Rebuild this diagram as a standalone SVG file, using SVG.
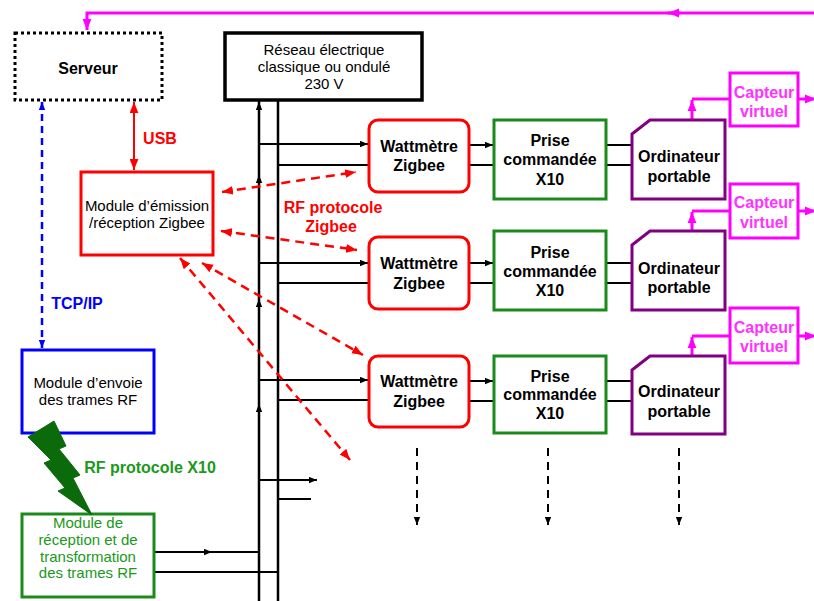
<svg xmlns="http://www.w3.org/2000/svg" width="814" height="601" viewBox="0 0 814 601">
<defs>
<style>
text{font-family:"Liberation Sans",Arial,sans-serif;text-anchor:middle}
.b{font-weight:bold;font-size:16px}
.r{font-size:15px}
.ln{fill:none;stroke:#000;stroke-width:2}
.bus{fill:none;stroke:#000;stroke-width:2.5}
.watt{fill:#fff;stroke:#ff0000;stroke-width:3}
.prise{fill:#fff;stroke:#1a8a1a;stroke-width:3}
.ord{fill:#fff;stroke:#800080;stroke-width:3}
.capt{fill:#fff;stroke:#ff00ff;stroke-width:3}
.mag{fill:none;stroke:#ff00ff;stroke-width:3}
.rfz{fill:none;stroke:#ff0000;stroke-width:2.5;stroke-dasharray:9,6}
.dd{fill:none;stroke:#000;stroke-width:2;stroke-dasharray:8,6}
</style>
<marker id="ak" viewBox="0 0 10 8" refX="10" refY="4" markerWidth="8" markerHeight="7" markerUnits="userSpaceOnUse" orient="auto-start-reverse"><path d="M0,0 L10,4 L0,8 z" fill="#000"/></marker>
<marker id="ar" viewBox="0 0 10 8" refX="10" refY="4" markerWidth="11" markerHeight="9" markerUnits="userSpaceOnUse" orient="auto-start-reverse"><path d="M0,0 L10,4 L0,8 z" fill="#ff0000"/></marker>
<marker id="ab" viewBox="0 0 10 8" refX="10" refY="4" markerWidth="8" markerHeight="7" markerUnits="userSpaceOnUse" orient="auto-start-reverse"><path d="M0,0 L10,4 L0,8 z" fill="#0000ff"/></marker>
<marker id="am" viewBox="0 0 10 8" refX="10" refY="4" markerWidth="11" markerHeight="10" markerUnits="userSpaceOnUse" orient="auto-start-reverse"><path d="M0,0 L10,4 L0,8 z" fill="#ff00ff"/></marker>
</defs>
<rect width="814" height="601" fill="#fff"/>

<g id="connectors">
  <path class="mag" d="M814,13 L87,13 L87,30" marker-end="url(#am)"/>
  <path class="mag" d="M680,13 L668,13" marker-end="url(#am)"/>
  <path class="bus" d="M259,100 V601"/>
  <path class="bus" d="M278,100 V601"/>
  <path class="ln" d="M259,112 V102" marker-end="url(#ak)"/>
  <path class="ln" d="M259,186 V175" marker-end="url(#ak)"/>
  <path class="ln" d="M259,310 V299" marker-end="url(#ak)"/>
  <path class="ln" d="M259,415 V404" marker-end="url(#ak)"/>
  <path class="ln" d="M259,144 H368" marker-end="url(#ak)"/>
  <path class="ln" d="M278,165 H369"/>
  <path class="ln" d="M469,145 H493" marker-end="url(#ak)"/>
  <path class="ln" d="M469,165 H494"/>
  <path class="ln" d="M607,145 H632"/>
  <path class="ln" d="M607,165 H632"/>
  <path class="ln" d="M259,263 H368" marker-end="url(#ak)"/>
  <path class="ln" d="M278,283 H369"/>
  <path class="ln" d="M469,263 H493" marker-end="url(#ak)"/>
  <path class="ln" d="M469,283 H494"/>
  <path class="ln" d="M607,263 H632"/>
  <path class="ln" d="M607,283 H632"/>
  <path class="ln" d="M259,380 H368" marker-end="url(#ak)"/>
  <path class="ln" d="M278,400 H369"/>
  <path class="ln" d="M469,381 H493" marker-end="url(#ak)"/>
  <path class="ln" d="M469,401 H494"/>
  <path class="ln" d="M607,381 H632"/>
  <path class="ln" d="M607,401 H632"/>
  <path class="ln" d="M259,480 H317" marker-end="url(#ak)"/>
  <path class="ln" d="M278,499 H311"/>
  <path class="ln" d="M155,552 H259"/>
  <path class="ln" d="M200,552 H212" marker-end="url(#ak)"/>
  <path class="ln" d="M155,572 H278"/>
  <path class="dd" d="M417,448 V525" marker-end="url(#ak)"/>
  <path class="dd" d="M548,448 V525" marker-end="url(#ak)"/>
  <path class="dd" d="M679,448 V525" marker-end="url(#ak)"/>
  <path class="mag" d="M692,120 V100" marker-end="url(#am)"/>
  <path class="mag" d="M692,99 H730"/>
  <path class="mag" d="M798,99 H816" marker-end="url(#am)"/>
  <path class="mag" d="M692,231 V212" marker-end="url(#am)"/>
  <path class="mag" d="M692,211 H730"/>
  <path class="mag" d="M798,211 H816" marker-end="url(#am)"/>
  <path class="mag" d="M692,356 V337" marker-end="url(#am)"/>
  <path class="mag" d="M692,336 H730"/>
  <path class="mag" d="M798,336 H816" marker-end="url(#am)"/>
  <path d="M134,102 V170" fill="none" stroke="#ff0000" stroke-width="2" marker-start="url(#ar)" marker-end="url(#ar)"/>
  <path d="M42,102 V348" fill="none" stroke="#0000ff" stroke-width="2.5" stroke-dasharray="7,5" marker-start="url(#ab)" marker-end="url(#ab)"/>
  <path class="rfz" d="M222,192 L356,172" marker-start="url(#ar)" marker-end="url(#ar)"/>
  <path class="rfz" d="M221,231 L357,250" marker-start="url(#ar)" marker-end="url(#ar)"/>
  <path class="rfz" d="M202,263 L363,355" marker-start="url(#ar)" marker-end="url(#ar)"/>
  <path class="rfz" d="M180,258 L350,460" marker-start="url(#ar)" marker-end="url(#ar)"/>
</g>

<g id="labels">
  <text x="160" y="144" class="b" fill="#ff0000">USB</text>
  <text x="77" y="309" class="b" fill="#0000ff">TCP/IP</text>
  <text x="150" y="473" class="b" fill="#1a991a">RF protocole X10</text>
  <text x="333" y="213" class="b" fill="#ff0000">RF protocole</text>
  <text x="331" y="232" class="b" fill="#ff0000">Zigbee</text>
</g>

<g id="serveur">
  <rect x="15" y="33" width="147" height="67" fill="#fff" stroke="#000" stroke-width="3" stroke-dasharray="3,3"/>
  <text x="88" y="74" class="b">Serveur</text>
</g>

<g id="reseau">
  <rect x="225" y="33" width="197" height="67" fill="#fff" stroke="#000" stroke-width="3.5"/>
  <text x="324" y="55" class="r">Réseau électrique</text>
  <text x="324" y="72" class="r">classique ou ondulé</text>
  <text x="324" y="89" class="r">230 V</text>
</g>

<g id="module-zigbee">
  <rect x="81" y="172" width="132" height="83" fill="#fff" stroke="#ff0000" stroke-width="3"/>
  <text x="147" y="211" class="r">Module d’émission</text>
  <text x="147" y="228" class="r">/réception Zigbee</text>
</g>

<g id="module-envoi">
  <rect x="22" y="350" width="132" height="83" fill="#fff" stroke="#0000ff" stroke-width="3"/>
  <text x="88" y="388" class="r">Module d’envoie</text>
  <text x="88" y="405" class="r">des trames RF</text>
</g>

<g id="module-reception">
  <rect x="22" y="514" width="132" height="83" fill="#fff" stroke="#1a8a1a" stroke-width="3"/>
  <g fill="#1a991a">
  <text x="88" y="528" class="r">Module de</text>
  <text x="88" y="545" class="r">réception et de</text>
  <text x="88" y="562" class="r">transformation</text>
  <text x="88" y="578" class="r">des trames RF</text>
  </g>
</g>

<g id="rf-x10-bolt">
  <polygon points="28,437 54,421 66,446 59,449 80,475 73,478 92,515 58,491 65,488 44,463 51,460" fill="#0b6b0b" stroke="#0b6b0b" stroke-width="1"/>
</g>

<g id="wattmetre-1">
  <rect x="369" y="120" width="100" height="72" rx="9" class="watt"/>
  <text x="419" y="152" class="b">Wattmètre</text>
  <text x="419" y="171" class="b">Zigbee</text>
</g>
<g id="wattmetre-2">
  <rect x="369" y="237" width="100" height="72" rx="9" class="watt"/>
  <text x="419" y="269" class="b">Wattmètre</text>
  <text x="419" y="289" class="b">Zigbee</text>
</g>
<g id="wattmetre-3">
  <rect x="369" y="356" width="100" height="71" rx="9" class="watt"/>
  <text x="419" y="387" class="b">Wattmètre</text>
  <text x="419" y="407" class="b">Zigbee</text>
</g>

<g id="prise-1">
  <rect x="494" y="120" width="112" height="79" class="prise"/>
  <text x="550" y="146" class="b">Prise</text>
  <text x="550" y="165" class="b">commandée</text>
  <text x="550" y="185" class="b">X10</text>
</g>
<g id="prise-2">
  <rect x="494" y="231" width="112" height="79" class="prise"/>
  <text x="550" y="258" class="b">Prise</text>
  <text x="550" y="277" class="b">commandée</text>
  <text x="550" y="296" class="b">X10</text>
</g>
<g id="prise-3">
  <rect x="494" y="356" width="112" height="77" class="prise"/>
  <text x="550" y="382" class="b">Prise</text>
  <text x="550" y="400" class="b">commandée</text>
  <text x="550" y="419" class="b">X10</text>
</g>

<g id="ordinateur-1">
  <polygon points="632,134 650,120 725,120 725,199 632,199" class="ord"/>
  <text x="679" y="162" class="b">Ordinateur</text>
  <text x="679" y="182" class="b">portable</text>
</g>
<g id="ordinateur-2">
  <polygon points="632,245 650,231 725,231 725,310 632,310" class="ord"/>
  <text x="679" y="274" class="b">Ordinateur</text>
  <text x="679" y="293" class="b">portable</text>
</g>
<g id="ordinateur-3">
  <polygon points="632,370 650,356 725,356 725,434 632,434" class="ord"/>
  <text x="679" y="397" class="b">Ordinateur</text>
  <text x="679" y="417" class="b">portable</text>
</g>

<g id="capteur-1">
  <rect x="730" y="73" width="68" height="53" class="capt"/>
  <text x="764" y="98" class="b" fill="#ff33ff">Capteur</text>
  <text x="764" y="117" class="b" fill="#ff33ff">virtuel</text>
</g>
<g id="capteur-2">
  <rect x="730" y="184" width="68" height="54" class="capt"/>
  <text x="764" y="208" class="b" fill="#ff33ff">Capteur</text>
  <text x="764" y="228" class="b" fill="#ff33ff">virtuel</text>
</g>
<g id="capteur-3">
  <rect x="730" y="308" width="68" height="55" class="capt"/>
  <text x="764" y="333" class="b" fill="#ff33ff">Capteur</text>
  <text x="764" y="352" class="b" fill="#ff33ff">virtuel</text>
</g>
</svg>
